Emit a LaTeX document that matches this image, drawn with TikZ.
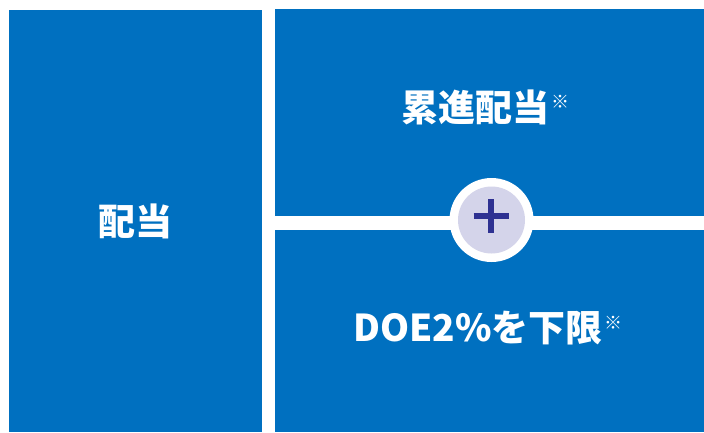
\documentclass[tikz,border=0pt]{standalone}
\usepackage{fontspec}
\newfontfamily\jp{Noto Sans CJK JP}
\definecolor{mainblue}{HTML}{0070C0}
\definecolor{lav}{HTML}{D4D4EA}
\definecolor{plusc}{HTML}{2E3192}
\newcommand{\kome}{\hspace{2pt}\raisebox{0.33em}{\fontsize{18}{18}\selectfont\bfseries ※}}
\begin{document}
\begin{tikzpicture}[x=1pt,y=-1pt,
  panel/.style={fill=mainblue, draw=none, inner sep=0pt, rectangle},
  lbl/.style={text=white, inner sep=0pt, font=\jp\bfseries\fontsize{37}{42}\selectfont},
  plusbar/.style={draw=plusc, line width=6pt}]
\useasboundingbox (0,0) rectangle (704,432);
\fill[white] (0,0) rectangle (704,432);
\node[panel, minimum width=253pt, minimum height=422pt] (left) at (135.5,221) {};
\node[panel, minimum width=429pt, minimum height=207pt] (top) at (489.5,112.5) {};
\node[panel, minimum width=429pt, minimum height=202pt] (bot) at (489.5,331) {};
\node[circle, fill=white, minimum size=84pt, inner sep=0pt] (ring) at (491.5,220) {};
\node[circle, fill=lav, minimum size=67pt, inner sep=0pt] (disc) at (ring.center) {};
\coordinate (pc) at (491,216);
\draw[plusbar] ([xshift=-17.5pt]pc) -- ([xshift=17.5pt]pc);
\draw[plusbar] ([yshift=17pt]pc) -- ([yshift=-17pt]pc);
\node[lbl] (tl) at (135,221) {配当};
\node[lbl] (tt) at (485,107) {累進配当\kome};
\node[lbl] (bt) at (488,328) {DOE2\%を下限\kome};
\end{tikzpicture}
\end{document}
